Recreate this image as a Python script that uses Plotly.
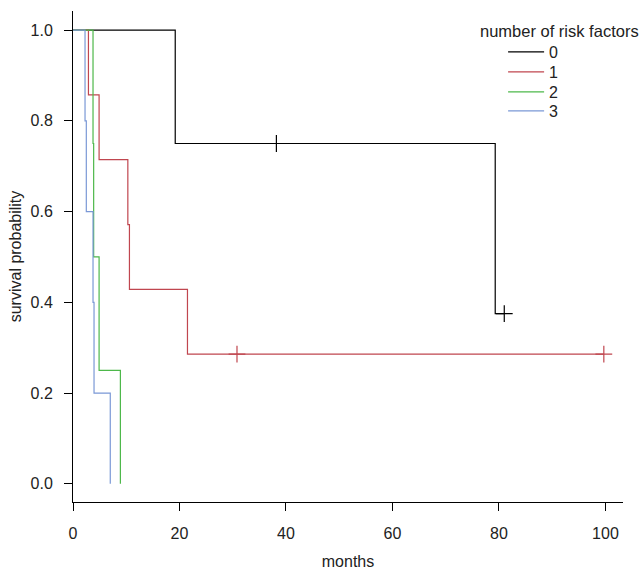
import plotly.graph_objects as go

# ---- data ----
groups = ["0", "1", "2", "3"]
colors = ["#000000", "#C0464F", "#4DB84A", "#7A98D6"]
legend_title = "number of risk factors"

times_0 = [0, 19.2, 79.3, 81.0]
surv_0 = [1.0, 0.75, 0.375, 0.375]
cens_t_0 = [38.2, 81.0]
cens_s_0 = [0.75, 0.375]

times_1 = [0, 2.9, 4.9, 10.3, 10.6, 21.5, 99.7]
surv_1 = [1.0, 6 / 7, 5 / 7, 4 / 7, 3 / 7, 2 / 7, 2 / 7]
cens_t_1 = [30.8, 99.7]
cens_s_1 = [2 / 7, 2 / 7]

times_2 = [0, 3.76, 3.88, 4.9, 8.9]
surv_2 = [1.0, 0.75, 0.5, 0.25, 0.0]
cens_t_2 = []
cens_s_2 = []

times_3 = [0, 2.26, 2.5, 3.76, 3.95, 7.0]
surv_3 = [1.0, 0.8, 0.6, 0.4, 0.2, 0.0]
cens_t_3 = []
cens_s_3 = []

x_ticks = [0, 20, 40, 60, 80, 100]
y_ticks = [0.0, 0.2, 0.4, 0.6, 0.8, 1.0]
y_tick_text = ["0.0", "0.2", "0.4", "0.6", "0.8", "1.0"]

series = [
    (times_0, surv_0, cens_t_0, cens_s_0),
    (times_1, surv_1, cens_t_1, cens_s_1),
    (times_2, surv_2, cens_t_2, cens_s_2),
    (times_3, surv_3, cens_t_3, cens_s_3),
]

legend_ids = ["legend", "legend2", "legend3", "legend4"]
legend_y = [0.9165, 0.8758, 0.8350, 0.7963]

fig = go.Figure()
for name, col, lid, (t, s, ct, cs) in zip(groups, colors, legend_ids, series):
    fig.add_trace(go.Scatter(
        x=t, y=s, mode="lines", name=name, legend=lid,
        line=dict(color=col, width=1.2, shape="hv"),
    ))
for name, col, (t, s, ct, cs) in zip(groups, colors, series):
    if ct:
        fig.add_trace(go.Scatter(
            x=ct, y=cs, mode="markers", showlegend=False,
            marker=dict(symbol="cross-thin", size=12,
                        line=dict(color=col, width=1.2)),
        ))

font_family = "Liberation Sans, Arial, sans-serif"
legend_layout = {}
for lid, ly in zip(legend_ids, legend_y):
    legend_layout[lid] = dict(
        x=0.782, xanchor="left", y=ly, yanchor="middle",
        bgcolor="rgba(0,0,0,0)", borderwidth=0,
        font=dict(size=16), itemwidth=36,
    )

fig.update_layout(
    width=644, height=573,
    margin=dict(l=73, r=21, t=11, b=71),
    plot_bgcolor="white", paper_bgcolor="white",
    font=dict(family=font_family, size=16, color="#222222"),
    annotations=[dict(
        text=legend_title, xref="paper", yref="paper",
        x=0.7364, y=0.9593, xanchor="left", yanchor="middle",
        showarrow=False, font=dict(size=16.5),
    )],
    xaxis=dict(
        range=[0, 103.3], tickvals=x_ticks, ticks="outside", ticklen=8,
        tickcolor="black", showline=True, linecolor="black", linewidth=1,
        showgrid=False, zeroline=False, ticklabelstandoff=9, automargin=False,
        title=dict(text="months", standoff=14, font=dict(size=16)),
    ),
    yaxis=dict(
        range=[-0.04, 1.042], tickvals=y_ticks, ticktext=y_tick_text,
        ticks="outside", ticklen=8, tickcolor="black",
        showline=True, linecolor="black", linewidth=1,
        showgrid=False, zeroline=False, ticklabelstandoff=8, automargin=False,
        title=dict(text="survival probability", standoff=4, font=dict(size=16)),
    ),
    **legend_layout,
)

fig.write_html("out.html")
